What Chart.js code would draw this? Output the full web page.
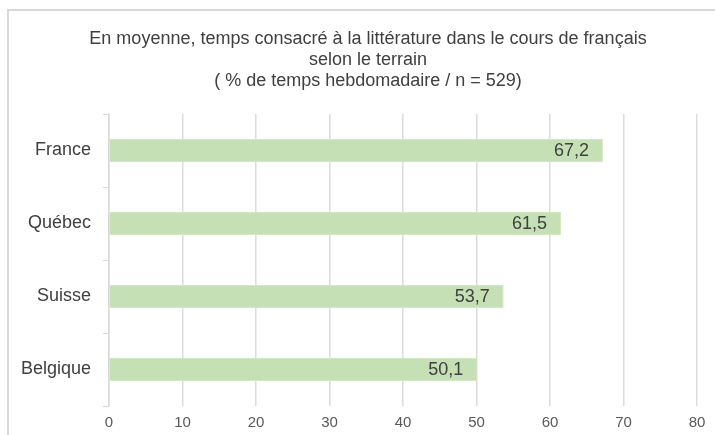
<!DOCTYPE html>
<html>
<head>
<meta charset="utf-8">
<script src="https://cdn.jsdelivr.net/npm/chart.js@4"></script>
<style>
    html, body { margin: 0; padding: 0; background: #fff; overflow: hidden; }
    #frame {
        position: absolute; left: 7px; top: 9px;
        width: 720px; height: 440px;
        border-left: 2px solid #d9d9d9; border-top: 2px solid #d9d9d9;
    }
    #wrap { position: absolute; left: 2px; top: 2px; width: 714px; height: 424px; }
</style>
</head>
<body>
<div id="frame"><div id="wrap"><canvas id="myChart"></canvas></div></div>
<script>
let labels = ['France', 'Québec', 'Suisse', 'Belgique']
let values = [67.2, 61.5, 53.7, 50.1]
let xTicks = [0, 10, 20, 30, 40, 50, 60, 70, 80]
let titleLines = [
    'En moyenne, temps consacré à la littérature dans le cours de français',
    'selon le terrain',
    '( % de temps hebdomadaire / n = 529)'
]

const font = '"Liberation Sans", Arial, sans-serif'

// title centred on the whole frame, not on the padded area
const frameTitle = {
    id: 'frameTitle',
    afterDraw(chart) {
        const ctx = chart.ctx
        ctx.save()
        ctx.font = '18px ' + font
        ctx.fillStyle = '#404040'
        ctx.textAlign = 'center'
        ctx.textBaseline = 'middle'
        titleLines.forEach((line, i) => ctx.fillText(line, chart.width / 2, 26 + i * 21))
        ctx.restore()
    }
}

// values written inside the end of each bar, french decimal comma
const valueLabels = {
    id: 'valueLabels',
    afterDatasetsDraw(chart) {
        const ctx = chart.ctx
        const meta = chart.getDatasetMeta(0)
        ctx.save()
        ctx.font = '18px ' + font
        ctx.fillStyle = '#404040'
        ctx.textAlign = 'right'
        ctx.textBaseline = 'middle'
        meta.data.forEach((bar, i) => {
            ctx.fillText(values[i].toFixed(1).replace('.', ','), bar.x - 14, bar.y + 1)
        })
        ctx.restore()
    }
}

let ctx = document.getElementById('myChart')
let myChart = new Chart(ctx, {
    type: 'bar',
    data: {
        labels,
        datasets: [{
            data: values,
            backgroundColor: 'rgb(197,224,180)',
            borderColor: 'rgb(210,232,196)',
            borderWidth: 1,
            barPercentage: 0.9,
            categoryPercentage: 0.35
        }]
    },
    options: {
        indexAxis: 'y',
        responsive: true,
        maintainAspectRatio: false,
        animation: false,
        layout: { padding: { top: 101, right: 28, bottom: 0, left: 0 } },
        plugins: {
            legend: { display: false },
            tooltip: { enabled: false },
            title: { display: false }
        },
        scales: {
            x: {
                min: 0,
                max: 80,
                afterBuildTicks(axis) { axis.ticks = xTicks.map(v => ({ value: v })) },
                afterFit(axis) { axis.height = 31 },
                border: { display: false },
                grid: { color: '#dcdcdc', lineWidth: 1.5, drawTicks: false },
                ticks: { color: '#595959', padding: 8, font: { family: font, size: 15 } }
            },
            y: {
                afterFit(axis) { axis.width = 98 },
                border: { display: true, color: '#d9d9d9', width: 1.5 },
                grid: { drawOnChartArea: false, color: '#d9d9d9', tickLength: 6, offset: true },
                ticks: { color: '#404040', padding: 12, font: { family: font, size: 18 } }
            }
        }
    },
    plugins: [frameTitle, valueLabels]
})
</script>
</body>
</html>
